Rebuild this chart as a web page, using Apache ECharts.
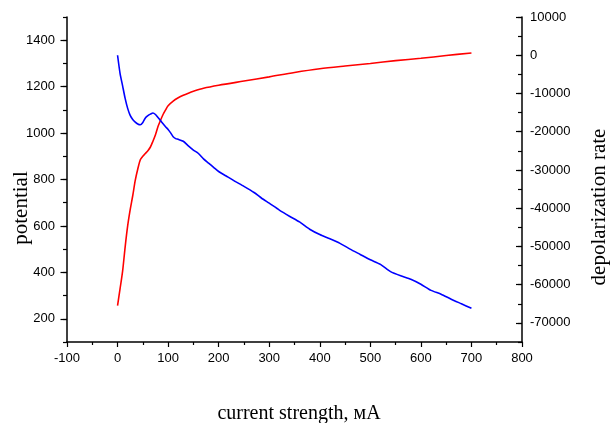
<!DOCTYPE html>
<html>
<head>
<meta charset="utf-8">
<script src="https://cdn.jsdelivr.net/npm/echarts@6/dist/echarts.min.js"></script>
<style>
  html, body { margin: 0; padding: 0; background: #fff; }
  #chart { width: 611px; height: 423px; }
</style>
</head>
<body>
<div id="chart"></div>
<script>
// Potential (left axis) against current strength
const potentialCurrent = [0, 5, 10, 15, 20, 25, 30, 35, 40, 45, 50, 55, 60, 65, 70, 75, 80, 85, 90, 95,
  100, 110, 120, 130, 140, 150, 170, 200, 250, 300, 350, 400, 450, 500, 550, 600, 650, 700];
const potential = [257, 330, 405, 509, 600, 670, 730, 796, 845, 885, 900, 912, 924, 940, 965, 993, 1028, 1055, 1080, 1100,
  1118, 1138, 1152, 1163, 1172, 1180, 1193, 1206, 1224, 1242, 1261, 1277, 1289, 1300, 1312, 1322, 1334, 1345];

// Depolarization rate (right axis) against current strength
const rateCurrent = [0, 5, 10, 15, 20, 25, 30, 35, 40, 45, 50, 55, 60, 65, 70, 75, 80, 85, 90, 95,
  100, 105, 110, 115, 120, 130, 140, 150, 160, 170, 180, 190, 200, 215, 230, 250, 270, 285, 300,
  320, 340, 360, 380, 400, 420, 440, 460, 480, 500, 520, 540, 560, 580, 600, 620, 640, 660, 680, 700];
const depolarizationRate = [0, -4800, -8000, -11300, -13900, -15750, -16800, -17500, -18000, -18200, -17600, -16400, -15800, -15400, -15100, -15500, -16300, -17100, -17900, -18700,
  -19400, -20300, -21300, -21800, -22000, -22500, -23700, -24800, -25700, -27100, -28200, -29300, -30400, -31600, -32800, -34300, -35900, -37400, -38700,
  -40500, -42100, -43600, -45500, -46900, -48000, -49200, -50700, -52100, -53500, -54700, -56600, -57700, -58600, -59900, -61500, -62500, -63800, -65000, -66200];

// Tick label values
const xTicks = [-100, 0, 100, 200, 300, 400, 500, 600, 700, 800];
const leftMajor = [200, 400, 600, 800, 1000, 1200, 1400];
const rightMajor = [10000, 0, -10000, -20000, -30000, -40000, -50000, -60000, -70000];

const zip = (xs, ys) => xs.map((x, i) => [x, ys[i]]);
const plain = v => String(v);

const labelFont = { fontFamily: 'Liberation Sans, Arial, sans-serif', fontSize: 13, color: '#000', formatter: plain };
const nameFont = { fontFamily: 'Liberation Serif, Times New Roman, serif', fontSize: 21, fill: '#000' };
const axisLine = { show: true, onZero: false, lineStyle: { color: '#000', width: 1.5 } };
const tickStyle = { color: '#000', width: 1.2 };

const chart = echarts.init(document.getElementById('chart'), null, { renderer: 'canvas' });
chart.setOption({
  animation: false,
  backgroundColor: '#fff',
  grid: { left: 67, right: 89, top: 17, bottom: 81, containLabel: false },
  xAxis: {
    type: 'value', min: -100, max: 800, interval: 100,
    axisLine: axisLine,
    axisTick: { show: true, length: 5, lineStyle: tickStyle },
    minorTick: { show: true, splitNumber: 2, length: 3, lineStyle: tickStyle },
    axisLabel: Object.assign({ margin: 10, customValues: xTicks }, labelFont),
    splitLine: { show: false }
  },
  yAxis: [
    {
      type: 'value', position: 'left', min: 100, max: 1500, interval: 100,
      axisLine: axisLine,
      axisTick: { show: true, length: 4, lineStyle: tickStyle },
      axisLabel: Object.assign({ margin: 12, customValues: leftMajor }, labelFont),
      splitLine: { show: false }
    },
    {
      type: 'value', position: 'right', min: -75000, max: 10000, interval: 5000,
      axisLine: axisLine,
      axisTick: { show: true, inside: true, length: 4, lineStyle: tickStyle },
      axisLabel: Object.assign({ margin: 8, customValues: rightMajor }, labelFont),
      splitLine: { show: false }
    },
    {
      type: 'value', position: 'left', min: 100, max: 1500,
      axisLine: { show: false, onZero: false },
      axisTick: { show: true, length: 6.5, customValues: leftMajor, lineStyle: tickStyle },
      axisLabel: { show: false },
      splitLine: { show: false }
    },
    {
      type: 'value', position: 'right', min: -75000, max: 10000,
      axisLine: { show: false, onZero: false },
      axisTick: { show: true, inside: true, length: 6, customValues: rightMajor, lineStyle: tickStyle },
      axisLabel: { show: false },
      splitLine: { show: false }
    }
  ],
  series: [
    {
      name: 'potential', type: 'line', yAxisIndex: 0,
      data: zip(potentialCurrent, potential),
      showSymbol: false, smooth: 0.3,
      lineStyle: { color: '#ff0000', width: 1.6 }
    },
    {
      name: 'depolarization rate', type: 'line', yAxisIndex: 1,
      data: zip(rateCurrent, depolarizationRate),
      showSymbol: false, smooth: 0.2,
      lineStyle: { color: '#0000ff', width: 1.6 }
    }
  ],
  graphic: [
    { type: 'text', x: 21, y: 208, rotation: Math.PI / 2,
      style: Object.assign({ text: 'potential', align: 'center', verticalAlign: 'middle' }, nameFont) },
    { type: 'text', x: 599, y: 207, rotation: Math.PI / 2,
      style: Object.assign({ text: 'depolarization rate', align: 'center', verticalAlign: 'middle' }, nameFont) },
    { type: 'text', x: 299, y: 414,
      style: Object.assign({ text: 'current strength, мА', align: 'center', verticalAlign: 'middle' }, nameFont, { fontSize: 20 }) }
  ]
});
</script>
</body>
</html>
